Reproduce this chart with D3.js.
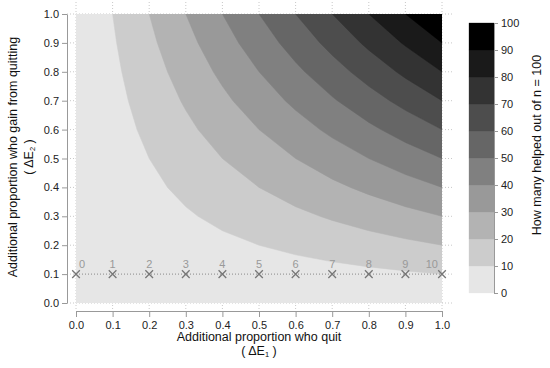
<!DOCTYPE html>
<html>
<head>
<meta charset="utf-8">
<script src="https://cdn.jsdelivr.net/npm/d3@7"></script>
<style>
  body { margin: 0; background: #fff; }
  svg { font-family: "Liberation Sans", Arial, sans-serif; }
  .tick text { fill: #222; font-size: 11px; }
</style>
</head>
<body>
<svg width="550" height="368"></svg>
<script>
// proportions on both axes
const xTicks = [0, 0.1, 0.2, 0.3, 0.4, 0.5, 0.6, 0.7, 0.8, 0.9, 1.0];
const yTicks = [0, 0.1, 0.2, 0.3, 0.4, 0.5, 0.6, 0.7, 0.8, 0.9, 1.0];

// how many helped out of 100, one row per dE2 value (0.0 .. 1.0), columns dE1 0.0 .. 1.0
const helped = [
  [0, 0, 0, 0, 0, 0, 0, 0, 0, 0, 0],
  [0, 1, 2, 3, 4, 5, 6, 7, 8, 9, 10],
  [0, 2, 4, 6, 8, 10, 12, 14, 16, 18, 20],
  [0, 3, 6, 9, 12, 15, 18, 21, 24, 27, 30],
  [0, 4, 8, 12, 16, 20, 24, 28, 32, 36, 40],
  [0, 5, 10, 15, 20, 25, 30, 35, 40, 45, 50],
  [0, 6, 12, 18, 24, 30, 36, 42, 48, 54, 60],
  [0, 7, 14, 21, 28, 35, 42, 49, 56, 63, 70],
  [0, 8, 16, 24, 32, 40, 48, 56, 64, 72, 80],
  [0, 9, 18, 27, 36, 45, 54, 63, 72, 81, 90],
  [0, 10, 20, 30, 40, 50, 60, 70, 80, 90, 100]
];

// contour levels and their greys
const levels = [0, 10, 20, 30, 40, 50, 60, 70, 80, 90, 100];
const greys = ["#e6e6e6", "#cccccc", "#b3b3b3", "#999999", "#808080",
               "#666666", "#4d4d4d", "#333333", "#1a1a1a", "#000000"];

// the example row at dE2 = 0.1
const markX = [0, 0.1, 0.2, 0.3, 0.4, 0.5, 0.6, 0.7, 0.8, 0.9, 1.0];
const markY = 0.1;
const markLabels = ["0", "1", "2", "3", "4", "5", "6", "7", "8", "9", "10"];

const svg = d3.select("svg");

const x = d3.scaleLinear().domain([0, 1]).range([76, 442]);
const y = d3.scaleLinear().domain([0, 1]).range([303, 14]);

// dotted grid, drawn first and partly covered by the fill
svg.append("g")
  .selectAll("line.gx")
  .data(xTicks)
  .join("line")
    .attr("x1", d => x(d)).attr("x2", d => x(d))
    .attr("y1", 2).attr("y2", 311)
    .attr("stroke", "#c8c8c8")
    .attr("stroke-dasharray", "1,2");

svg.append("g")
  .selectAll("line.gy")
  .data(yTicks)
  .join("line")
    .attr("x1", 67).attr("x2", 453)
    .attr("y1", d => y(d)).attr("y2", d => y(d))
    .attr("stroke", "#c8c8c8")
    .attr("stroke-dasharray", "1,2");

// filled contours
const n = helped[0].length, m = helped.length;
const values = [];
for (let j = 0; j < m; j++) for (let i = 0; i < n; i++) values.push(helped[j][i]);

const contours = d3.contours()
  .size([n, m])
  .thresholds(levels.slice(0, -1))(values);

const gx = d3.scaleLinear().domain([0.5, n - 0.5]).range([x(0), x(1)]);
const gy = d3.scaleLinear().domain([0.5, m - 0.5]).range([y(0), y(1)]);
const path = d3.geoPath(d3.geoTransform({
  point: function(px, py) { this.stream.point(gx(px), gy(py)); }
}));

svg.append("clipPath").attr("id", "plotclip")
  .append("rect")
    .attr("x", x(0)).attr("y", y(1))
    .attr("width", x(1) - x(0)).attr("height", y(0) - y(1));

svg.append("g")
  .attr("clip-path", "url(#plotclip)")
  .selectAll("path")
  .data(contours)
  .join("path")
    .attr("d", path)
    .attr("fill", (d, i) => greys[i])
    .attr("stroke", (d, i) => greys[i])
    .attr("stroke-width", 0.5);

// axes
const xAxis = svg.append("g")
  .attr("transform", "translate(0,311)")
  .call(d3.axisBottom(x).tickValues(xTicks).tickFormat(d3.format(".1f")).tickSize(6).tickSizeOuter(0));
const yAxis = svg.append("g")
  .attr("transform", "translate(67,0)")
  .call(d3.axisLeft(y).tickValues(yTicks).tickFormat(d3.format(".1f")).tickSize(5).tickSizeOuter(0));
[xAxis, yAxis].forEach(a => {
  a.select(".domain").attr("stroke", "#999");
  a.selectAll(".tick line").attr("stroke", "#999");
  a.attr("font-family", null).attr("font-size", null);
});
xAxis.selectAll(".tick text").attr("dy", "0.71em").attr("y", 10);
yAxis.selectAll(".tick text").attr("x", -8);

// axis titles
svg.append("text")
  .attr("x", 259).attr("y", 341)
  .attr("text-anchor", "middle")
  .attr("font-size", 12.5).attr("fill", "#111")
  .text("Additional proportion who quit");
const xt2 = svg.append("text")
  .attr("x", 259).attr("y", 355)
  .attr("text-anchor", "middle")
  .attr("font-size", 12.5).attr("fill", "#111");
xt2.append("tspan").text("( ΔE");
xt2.append("tspan").attr("font-size", 7.5).attr("dy", 2).text("1");
xt2.append("tspan").attr("dy", -2).text(" )");

svg.append("text")
  .attr("transform", "translate(17,157) rotate(-90)")
  .attr("text-anchor", "middle")
  .attr("font-size", 12.5).attr("fill", "#111")
  .text("Additional proportion who gain from quitting");
const yt2 = svg.append("text")
  .attr("transform", "translate(33,157) rotate(-90)")
  .attr("text-anchor", "middle")
  .attr("font-size", 12.5).attr("fill", "#111");
yt2.append("tspan").text("( ΔE");
yt2.append("tspan").attr("font-size", 7.5).attr("dy", 2).text("2");
yt2.append("tspan").attr("dy", -2).text(" )");

// example row: dotted line, crosses and counts
svg.append("line")
  .attr("x1", x(markX[0])).attr("x2", x(markX[markX.length - 1]))
  .attr("y1", y(markY)).attr("y2", y(markY))
  .attr("stroke", "#888").attr("stroke-dasharray", "1,2");

const cross = d3.symbol().type(d3.symbolX).size(40);
svg.append("g")
  .selectAll("path")
  .data(markX)
  .join("path")
    .attr("transform", d => `translate(${x(d)},${y(markY)})`)
    .attr("d", cross)
    .attr("fill", "none")
    .attr("stroke", "#777")
    .attr("stroke-width", 1.3);

svg.append("g")
  .selectAll("text")
  .data(markX)
  .join("text")
    .attr("x", (d, i) => x(d) + (i === 0 ? 3 : i === markX.length - 1 ? -4 : 0))
    .attr("y", y(markY) - 6)
    .attr("text-anchor", (d, i) => i === 0 ? "start" : i === markX.length - 1 ? "end" : "middle")
    .attr("font-size", 11)
    .attr("fill", "#999")
    .text((d, i) => markLabels[i]);

// colour key
const c = d3.scaleLinear().domain([0, 100]).range([293, 23]);
svg.append("g")
  .selectAll("rect")
  .data(greys)
  .join("rect")
    .attr("x", 469)
    .attr("width", 25)
    .attr("y", (d, i) => c(levels[i + 1]))
    .attr("height", (d, i) => c(levels[i]) - c(levels[i + 1]))
    .attr("fill", d => d)
    .attr("stroke", d => d)
    .attr("stroke-width", 0.3);

const cAxis = svg.append("g")
  .attr("transform", "translate(494,0)")
  .call(d3.axisRight(c).tickValues(levels).tickSize(4).tickSizeOuter(0));
cAxis.select(".domain").attr("stroke", "#999");
cAxis.selectAll(".tick line").attr("stroke", "#999");
cAxis.attr("font-family", null).attr("font-size", null);
cAxis.selectAll(".tick text").attr("x", 7);

svg.append("text")
  .attr("transform", "translate(541,145) rotate(-90)")
  .attr("text-anchor", "middle")
  .attr("font-size", 12.5).attr("fill", "#111")
  .text("How many helped out of n = 100");
</script>
</body>
</html>
